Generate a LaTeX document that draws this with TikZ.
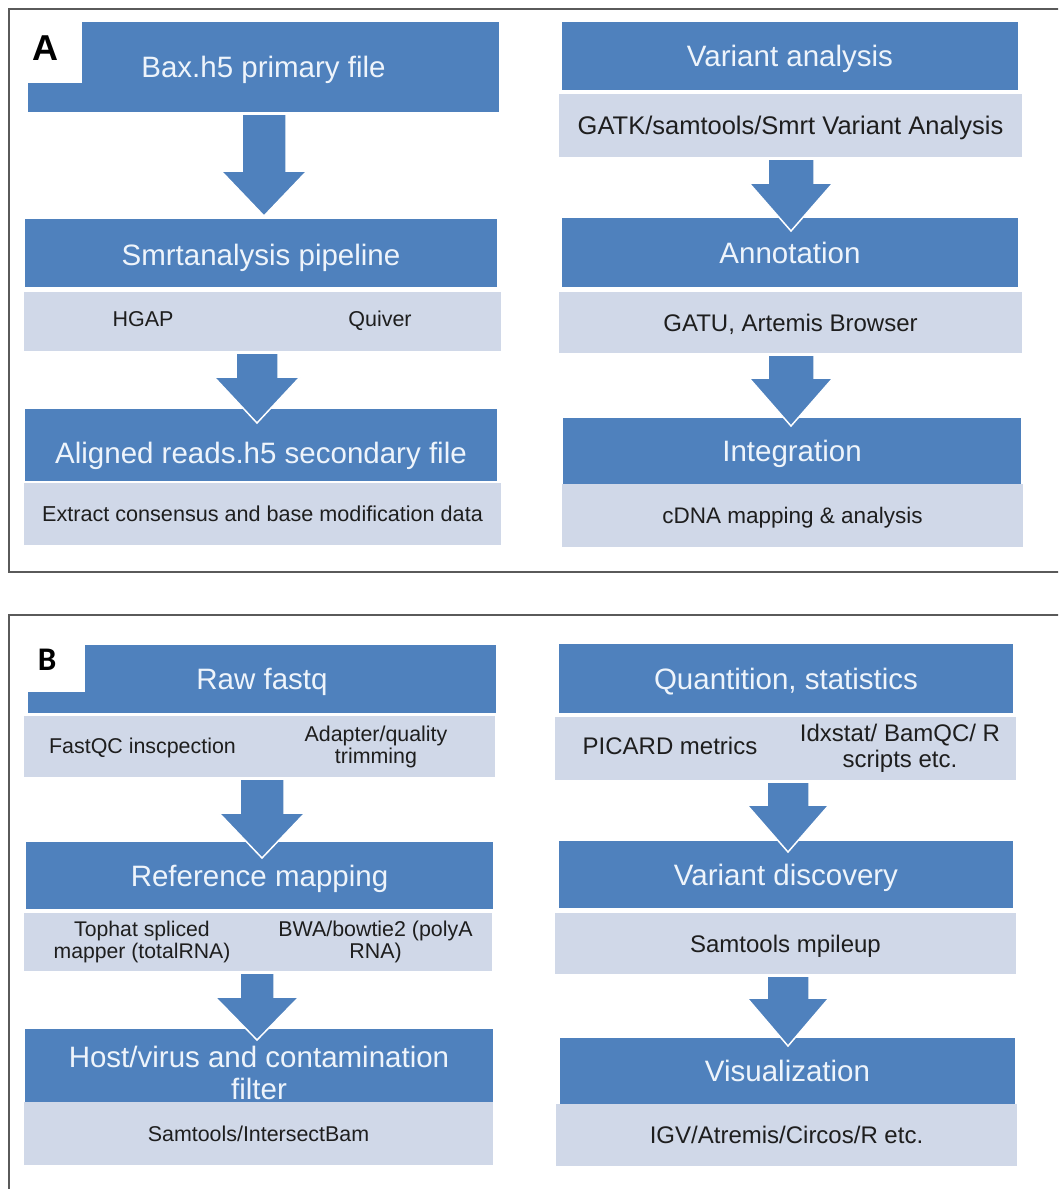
\documentclass[tikz,border=0pt]{standalone}
\usepackage{fontspec}
\setmainfont{Liberation Sans}
\newfontfamily\carlito{Carlito}
\usetikzlibrary{calc}
\definecolor{boxblue}{HTML}{4F81BD}
\definecolor{boxlight}{HTML}{D0D8E8}
\definecolor{titletext}{HTML}{EEF4FB}
\definecolor{subtext}{HTML}{1E1E1E}
\definecolor{framegray}{HTML}{5A5A5A}
% block arrow: #1 source node, #2 target node, #3 x centre, #4 shaft half width,
% #5 head half width, #6 shoulder y, #7 tip overlap into target
\newcommand\flowarrow[7]{%
  \filldraw[flowarr]
    ($(#1.south -| #3,0)+(-#4,2)$) -- ($(#1.south -| #3,0)+(#4,2)$)
    -- (#3+#4,#6) -- (#3+#5,#6) -- ($(#2.north -| #3,0)+(0,#7)$)
    -- (#3-#5,#6) -- (#3-#4,#6) -- cycle;}
\begin{document}
\begin{tikzpicture}[x=1pt,y=-1pt,
  tbox/.style={fill=boxblue, draw=none, inner sep=0pt, outer sep=0pt,
    text=titletext, font=\fontsize{29.5}{32}\selectfont, text height=21.1pt, text depth=0pt},
  sbox/.style={fill=boxlight, draw=none, inner sep=0pt, outer sep=0pt},
  stext/.style 2 args={text=subtext, font=\fontsize{#1}{#1}\selectfont,
    text height=#2, text depth=0pt, inner sep=0pt},
  mtext/.style 2 args={text=subtext, font=\fontsize{#1}{#2}\selectfont,
    align=center, inner sep=0pt},
  mtitle/.style={text=titletext, font=\fontsize{29.5}{32}\selectfont,
    align=center, inner sep=0pt},
  flowarr/.style={fill=boxblue, draw=white, line width=1.5pt, line join=miter},
  frameline/.style={draw=framegray, line width=1.5pt},
  plabel/.style={fill=white, inner sep=0pt, outer sep=0pt, text=black}
]
\useasboundingbox (0,0) rectangle (1058,1189);
\clip (0,0) rectangle (1058,1189);
\fill[white] (0,0) rectangle (1058,1189);

% ---------------- Panel A, left column
\node[tbox, minimum width=471pt, minimum height=90pt] (bax) at (263.5,67) {Bax.h5 primary file};
\node[tbox, minimum width=472pt, minimum height=68pt, text height=25.1pt] (smrt) at (261,253) {Smrtanalysis pipeline};
\node[sbox, minimum width=477pt, minimum height=59pt] (hgapbox) at (262.5,321.5) {};
\node[stext={21.5}{15.4pt}] (hgap) at (143,319) {HGAP};
\node[stext={21.5}{15.4pt}] (quiver) at (380,319) {Quiver};
\node[tbox, minimum width=472pt, minimum height=72pt, text height=37.1pt] (aligned) at (261,445) {Aligned reads.h5 secondary file};
\node[sbox, stext={21.6}{15.5pt}, minimum width=477pt, minimum height=62pt] (extract) at (262.5,514) {Extract consensus and base modification data};

% ---------------- Panel A, right column
\node[tbox, minimum width=456pt, minimum height=68pt] (varan) at (790,56) {Variant analysis};
\node[sbox, stext={25.5}{18.3pt}, minimum width=463pt, minimum height=63pt] (gatk) at (790.5,125.5) {GATK/samtools/Smrt Variant Analysis};
\node[tbox, minimum width=456pt, minimum height=69pt] (annot) at (790,252.5) {Annotation};
\node[sbox, stext={24}{17.2pt}, minimum width=463pt, minimum height=61pt] (gatu) at (790.5,322.5) {GATU, Artemis Browser};
\node[tbox, minimum width=458pt, minimum height=66pt] (integ) at (792,451) {Integration};
\node[sbox, stext={22.5}{16.1pt}, minimum width=461pt, minimum height=63pt] (cdna) at (792.5,515.5) {cDNA mapping \& analysis};

% ---------------- Panel B, left column
\node[tbox, minimum width=468pt, minimum height=68pt] (raw) at (262,679) {Raw fastq};
\node[sbox, minimum width=471pt, minimum height=61pt] (fastqcbox) at (259.5,746.5) {};
\node[stext={21.4}{15.3pt}] (fastqc) at (142.5,745.5) {FastQC inscpection};
\node[mtext={21.4}{22}] (adapter) at (376,747) {Adapter/quality\\trimming};
\node[tbox, minimum width=467pt, minimum height=67pt] (refmap) at (259.5,875.5) {Reference mapping};
\node[sbox, minimum width=468pt, minimum height=58pt] (tophatbox) at (258,942) {};
\node[mtext={21.2}{22}] (tophat) at (142,942) {Tophat spliced\\mapper (totalRNA)};
\node[mtext={21.4}{22}] (bwa) at (375.5,942) {BWA/bowtie2 (polyA\\RNA)};
\node[tbox, minimum width=468pt, minimum height=73pt] (host) at (259,1065.5) {};
\node[sbox, stext={21.4}{15.3pt}, minimum width=469pt, minimum height=63pt] (samint) at (258.5,1133.5) {Samtools/IntersectBam};
\node[mtitle] (hosttxt) at (259,1072.5) {Host/virus and contamination\\filter};

% ---------------- Panel B, right column
\node[tbox, minimum width=454pt, minimum height=69pt] (quant) at (786,678.5) {Quantition, statistics};
\node[sbox, minimum width=461pt, minimum height=63pt] (picardbox) at (785.5,748.5) {};
\node[stext={24}{17.2pt}] (picard) at (670,746) {PICARD metrics};
\node[mtext={24}{26.5}] (idx) at (900,748.4) {Idxstat/ BamQC/ R\\scripts etc.};
\node[tbox, minimum width=454pt, minimum height=67pt] (vardisc) at (786,874.5) {Variant discovery};
\node[sbox, stext={24}{17.2pt}, minimum width=461pt, minimum height=61pt] (mpileup) at (785.5,943.5) {Samtools mpileup};
\node[tbox, minimum width=455pt, minimum height=66pt] (visual) at (787.5,1071) {Visualization};
\node[sbox, stext={24}{17.2pt}, minimum width=461pt, minimum height=62pt] (igv) at (786.5,1135) {IGV/Atremis/Circos/R etc.};

% ---------------- block arrows
\flowarrow{bax}{smrt}{264}{22}{43}{171}{-3}
\flowarrow{hgapbox}{aligned}{257}{21}{43}{377}{14}
\flowarrow{gatk}{annot}{791}{23}{42}{183}{13}
\flowarrow{gatu}{integ}{791}{23}{42}{378}{8}
\flowarrow{fastqcbox}{refmap}{262}{22}{43}{813}{16}
\flowarrow{tophatbox}{host}{257}{17}{42}{997}{11}
\flowarrow{picardbox}{vardisc}{788}{21}{41}{805}{11}
\flowarrow{mpileup}{visual}{788}{21}{41}{998}{8}

% ---------------- panel labels
\node[plabel, minimum width=73pt, minimum height=74pt,
  font=\fontsize{36}{36}\selectfont\bfseries, text height=29.8pt, text depth=0pt] (alabel) at (45.5,46) {A};
\node[plabel, minimum width=76pt, minimum height=77pt,
  font=\fontsize{33}{33}\selectfont\carlito\bfseries, text height=34.3pt, text depth=0pt] (blabel) at (47,653.5) {B};

% ---------------- frames
\draw[frameline] (1070,9) -- (9,9) -- (9,572) -- (1070,572);
\draw[frameline] (9,1200) -- (9,615) -- (1070,615);
\end{tikzpicture}
\end{document}
